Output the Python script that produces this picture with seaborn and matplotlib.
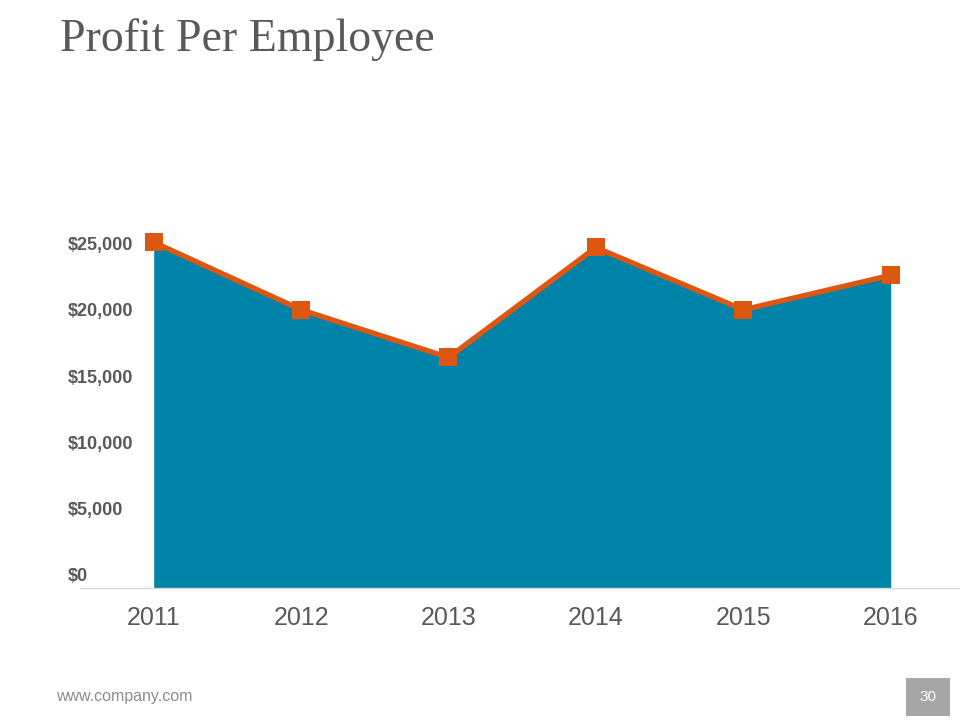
import matplotlib
matplotlib.use("Agg")
import matplotlib.pyplot as plt
import matplotlib.patches as mpatches
import seaborn as sns
import pandas as pd

# chart data
years = ["2011", "2012", "2013", "2014", "2015", "2016"]
profit = [25100, 20000, 16400, 24700, 20000, 22600]
ytick_values = [0, 5000, 10000, 15000, 20000, 25000]
ytick_labels = ["$0", "$5,000", "$10,000", "$15,000", "$20,000", "$25,000"]

FILL = "#0083A9"
LINE = "#DD5710"
TEXT = "#595959"

sns.set_theme(style="white")
plt.rcParams['font.family'] = ['Liberation Sans', 'DejaVu Sans']

df = pd.DataFrame({"year": years, "profit": profit})
df["pos"] = range(len(df))

fig = plt.figure(figsize=(9.6, 7.2), dpi=100)
ax = fig.add_axes([0.0833, 0.1833, 0.9167, 0.5153])

base = -1000
ax.fill_between(df["pos"], df["profit"], base, color=FILL, lw=0, zorder=1)
sns.lineplot(data=df, x="pos", y="profit", ax=ax, color=LINE, lw=3.8,
             marker="s", markersize=13, markeredgewidth=0, zorder=3)

ax.set_xlim(-0.5, 5.47)
ax.set_ylim(base, 27000)
ax.set_xticks(df["pos"])
ax.set_xticklabels(years, fontsize=18, color=TEXT)
ax.set_yticks(ytick_values)
ax.set_yticklabels(ytick_labels, fontsize=13, color=TEXT, fontweight="bold")
for lab in ax.get_yticklabels():
    lab.set_ha("left")
ax.tick_params(axis="y", length=0, pad=8.6)
ax.tick_params(axis="x", length=0, pad=13)
ax.set_xlabel("")
ax.set_ylabel("")
for s in ["top", "right", "left"]:
    ax.spines[s].set_visible(False)
ax.spines["bottom"].set_color("#D9D9D9")
ax.spines["bottom"].set_linewidth(1)
ax.patch.set_alpha(0)

fig.text(60 / 960, 1 - 40 / 720, "Profit Per Employee", fontsize=33,
         color=TEXT, family=["Liberation Serif", "DejaVu Serif"], va="center", ha="left")
fig.text(56 / 960, 1 - 697 / 720, "www.company.com", fontsize=11.5,
         color="#8C8C8C", va="center", ha="left")
fig.patches.append(mpatches.Rectangle((906 / 960, 1 - 716 / 720), 44 / 960, 38 / 720,
                                      transform=fig.transFigure, color="#A6A6A6", lw=0))
fig.text(928 / 960, 1 - 697 / 720, "30", fontsize=11, color="white", va="center", ha="center")

fig.savefig("out.png", dpi=100)
